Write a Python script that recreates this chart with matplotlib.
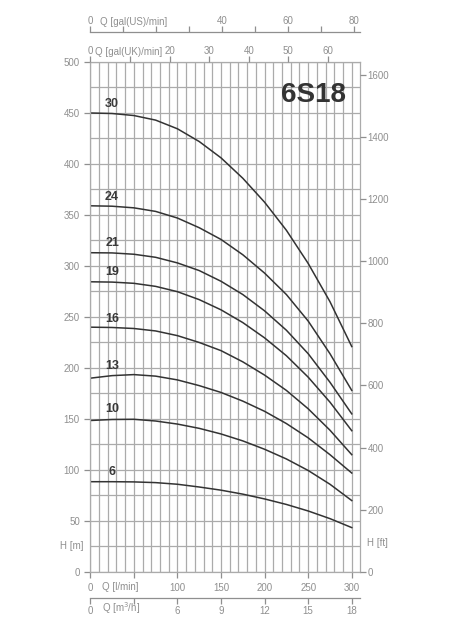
import numpy as np
import matplotlib
matplotlib.use("Agg")
import matplotlib.pyplot as plt

plt.rcParams['font.family'] = ['Liberation Sans', 'DejaVu Sans']

# Flow points (l/min) and head curves (m) for each number of stages
q = np.array([0, 25, 50, 75, 100, 125, 150, 175, 200, 225, 250, 275, 300])
stages = ["30", "24", "21", "19", "16", "13", "10", "6"]
h30 = [450, 449.5, 447.5, 443, 434.5, 422, 406, 386, 362.5, 335, 302.5, 265, 221]
h24 = [359, 358.6, 357, 353.5, 347, 337.5, 326, 311, 293, 272, 246, 214, 178]
h21 = [313, 312.8, 311.5, 308.5, 303, 295.5, 285, 272, 256, 237, 214, 186, 155]
h19 = [284.5, 284.2, 283, 280, 274.8, 267, 257, 244.5, 229.5, 212, 191, 166.5, 138.5]
h16 = [240, 239.7, 238.7, 236.3, 231.7, 225, 217, 206, 193, 178, 160, 139, 115]
h13 = [190, 192.5, 193.5, 192, 188.3, 182.7, 176, 167.5, 157.5, 145.5, 131.5, 115, 97]
h10 = [148.5, 149.5, 149.7, 148, 145, 140.8, 135.3, 128.5, 120.3, 110.8, 99.5, 86, 70]
h6 = [88.5, 88.5, 88.3, 87.6, 86, 83.3, 80.2, 76.3, 71.6, 66.2, 59.8, 52.3, 43.5]
curves = [h30, h24, h21, h19, h16, h13, h10, h6]
label_h = [459, 368, 323, 294, 248, 202, 160, 98]

grey = '#8f8f8f'
gridc = '#ababab'
qmax = 310
hmax = 500

fig = plt.figure(figsize=(4.56, 6.39), dpi=100)
ax = fig.add_axes([0.198, 0.1049, 0.5925, 0.7981])

ax.set_xlim(0, qmax)
ax.set_ylim(0, hmax)
ax.set_xticks(np.arange(0, 301, 10), minor=True)
ax.set_xticks(np.arange(0, 301, 50))
ax.set_xticklabels(['0', '', '100', '150', '200', '250', '300'])
ax.set_yticks(np.arange(0, 501, 50))
ax.set_yticks(np.arange(0, 501, 25), minor=True)
ax.grid(True, which='both', color=gridc, lw=0.9)
ax.tick_params(which='major', colors=grey, labelsize=7, length=4, width=0.9, direction='out')
ax.tick_params(axis='x', which='minor', length=0)
ax.tick_params(axis='y', which='minor', length=0)
ax.tick_params(axis='x', pad=4)
for s in ax.spines.values():
    s.set_color(gridc)
    s.set_linewidth(0.9)

for h, lab, lh in zip(curves, stages, label_h):
    ax.plot(q, h, color='#333333', lw=1.1)
    ax.text(25, lh, lab, fontsize=9, fontweight='bold', color='#3a3a3a',
            ha='center', va='center')

ax.text(256, 468, '6S18', fontsize=20, fontweight='bold', color='#333333',
        ha='center', va='center')
ax.text(-21, 25, 'H [m]', fontsize=7, color=grey, ha='center', va='center')
ax.text(34, -15, 'Q [l/min]', fontsize=7, color=grey, ha='center', va='center')

# right axis in feet
axr = ax.twinx()
axr.set_ylim(0, hmax * 3.28084)
axr.set_yticks(np.arange(0, 1601, 200))
axr.tick_params(colors=grey, labelsize=7, length=4, width=0.9, pad=1)
for s in axr.spines.values():
    s.set_visible(False)
axr.text(1.062, 0.057, 'H [ft]', transform=ax.transAxes, fontsize=7, color=grey,
         ha='center', va='center')

# top axis, UK gallons
axt = ax.twiny()
axt.set_xlim(0, qmax / 4.54609)
axt.set_xticks(np.arange(0, 61, 10))
axt.set_xticklabels(['0', '', '20', '30', '40', '50', '60'])
axt.tick_params(colors=grey, labelsize=7, length=4, width=0.9, pad=0)
for s in axt.spines.values():
    s.set_visible(False)
axt.text(0.143, 1.0195, 'Q [gal(UK)/min]', transform=ax.transAxes, fontsize=7,
         color=grey, ha='center', va='center')

# US gallons scale
axu = fig.add_axes([0.198, 1 - 31.7 / 639, 0.5925, 0.0001])
axu.set_xlim(0, qmax / 3.78541)
axu.set_xticks(np.arange(0, 81, 10))
axu.set_xticklabels(['0', '', '', '', '40', '', '60', '', '80'])
axu.xaxis.set_ticks_position('top')
axu.set_yticks([])
axu.tick_params(colors=grey, labelsize=7, length=4, width=0.9, pad=0)
for k, s in axu.spines.items():
    s.set_visible(k == 'top')
    s.set_color(grey)
    s.set_linewidth(0.9)
axu.patch.set_visible(False)
fig.text(0.292, 1 - 22.3 / 639, 'Q [gal(US)/min]', fontsize=7, color=grey,
         ha='center', va='center')

# m3/h scale
axm = fig.add_axes([0.198, 1 - 598 / 639, 0.5925, 0.0001])
axm.set_xlim(0, qmax * 0.06)
axm.set_xticks(np.arange(0, 19, 3))
axm.set_xticklabels(['0', '', '6', '9', '12', '15', '18'])
axm.set_yticks([])
axm.tick_params(colors=grey, labelsize=7, length=4, width=0.9, pad=1.5)
for k, s in axm.spines.items():
    s.set_visible(k == 'bottom')
    s.set_color(grey)
    s.set_linewidth(0.9)
axm.patch.set_visible(False)
fig.text(0.265, 1 - 608.5 / 639, 'Q [m$^3$/h]', fontsize=7, color=grey,
         ha='center', va='center')

fig.savefig('out.png', dpi=100)
